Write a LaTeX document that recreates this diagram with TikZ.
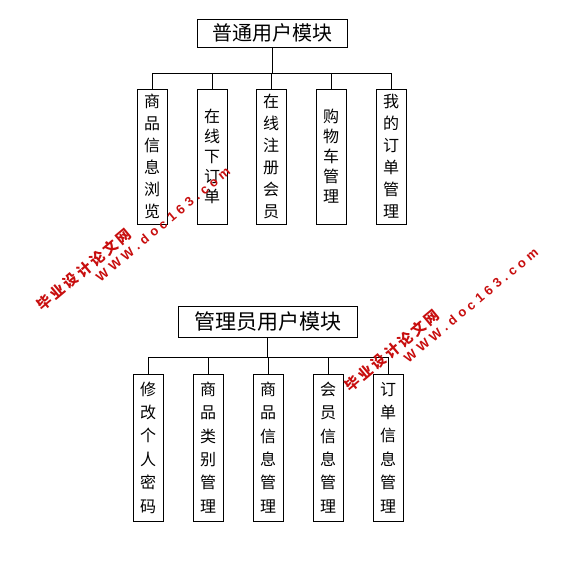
\documentclass[tikz,border=0pt]{standalone}
\usepackage{fontspec}
\newfontfamily\cjk{Noto Sans CJK SC}
\newfontfamily\wmcjk[LetterSpace=18]{Noto Sans CJK SC}
\newfontfamily\wmlat[LetterSpace=33]{Liberation Sans}
\definecolor{wmred}{RGB}{200,14,14}

\tikzset{
  modtitle/.style={draw, line width=0.8pt, inner sep=0pt, font=\cjk\fontsize{20}{24}\selectfont},
  leaf/.style={draw, line width=0.8pt, inner sep=0pt, minimum width=30, align=center,
    font=\cjk\fontsize{16}{#1}\selectfont},
  link/.style={line width=0.8pt},
  wmcn/.style={text=wmred, rotate=40, inner sep=0pt, font=\wmcjk\bfseries\fontsize{14.5}{16}\selectfont},
  wmurl/.style={text=wmred, rotate=40, inner sep=0pt, font=\wmlat\bfseries\fontsize{13}{15}\selectfont}
}

\begin{document}
\begin{tikzpicture}[x=1pt,y=-1pt]
    \useasboundingbox[fill=white] (0,0) rectangle (576,564);

    % Normal user module
    \node[modtitle, minimum width=150, minimum height=28] (ut) at (272,33) {普通用户模块};
    \coordinate (ubus) at (272,73);
    \node[leaf=22, minimum height=135] (u1) at (152,156.5) {商\\品\\信\\息\\浏\\览};
    \node[leaf=20, minimum height=135] (u2) at (212,156.5) {在\\线\\下\\订\\单};
    \node[leaf=22, minimum height=135] (u3) at (271,156.5) {在\\线\\注\\册\\会\\员};
    \node[leaf=20, minimum height=135] (u4) at (331,156.5) {购\\物\\车\\管\\理};
    \node[leaf=22, minimum height=135] (u5) at (391,156.5) {我\\的\\订\\单\\管\\理};
    \foreach \i in {1,...,5}
        \draw[link] (ut.south) -- (ubus) -| (u\i.north);

    % Administrator module
    \node[modtitle, font=\cjk\fontsize{21}{25}\selectfont, minimum width=179, minimum height=31] (bt) at (267.5,321.5) {管理员用户模块};
    \coordinate (bbus) at (267.5,357);
    \node[leaf=23.4, minimum height=147] (b1) at (148,447.5) {修\\改\\个\\人\\密\\码};
    \node[leaf=23.4, minimum height=147] (b2) at (208,447.5) {商\\品\\类\\别\\管\\理};
    \node[leaf=23.4, minimum height=147] (b3) at (268,447.5) {商\\品\\信\\息\\管\\理};
    \node[leaf=23.4, minimum height=147] (b4) at (328,447.5) {会\\员\\信\\息\\管\\理};
    \node[leaf=23.4, minimum height=147] (b5) at (388,447.5) {订\\单\\信\\息\\管\\理};
    \foreach \i in {1,...,5}
        \draw[link] (bt.south) -- (bbus) -| (b\i.north);

    % Watermarks
    \node[wmcn] (wm1) at (84,270) {毕业设计论文网};
    \node[wmurl] (wm2) at (163,224) {WWW.doc163.com};
    \node[wmcn] (wm3) at (392,351) {毕业设计论文网};
    \node[wmurl] (wm4) at (471,305) {WWW.doc163.com};
\end{tikzpicture}
\end{document}
